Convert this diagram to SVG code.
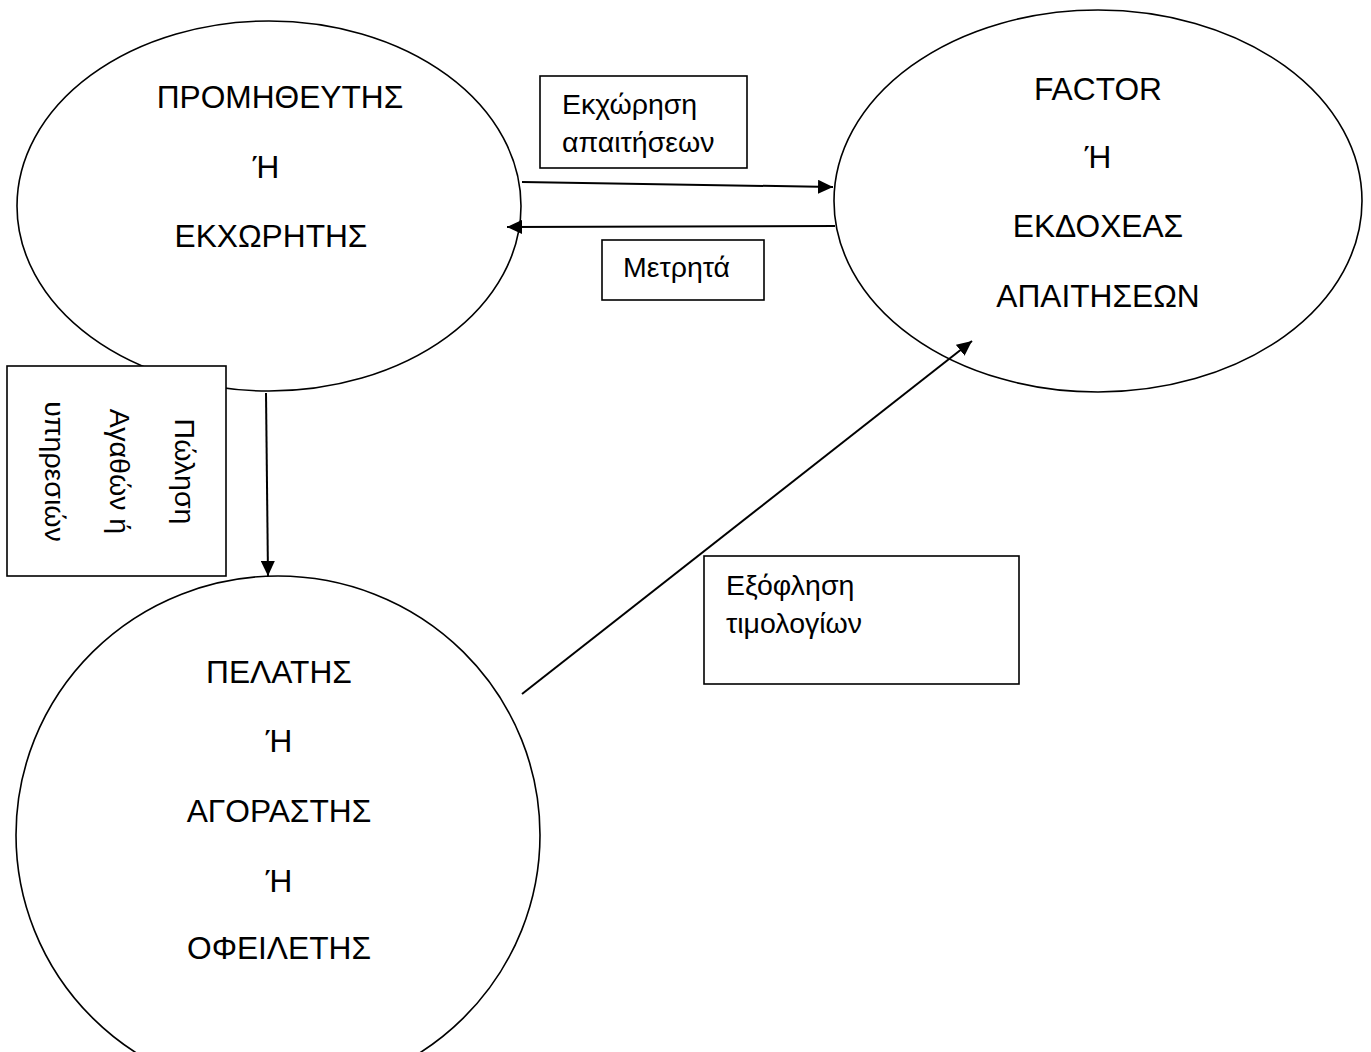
<svg xmlns="http://www.w3.org/2000/svg" width="1371" height="1052" viewBox="0 0 1371 1052">
<style>
.node{fill:#fff;stroke:#000;stroke-width:1.6}
.box{fill:#fff;stroke:#000;stroke-width:1.6}
.big{font-family:"Liberation Sans",Arial,sans-serif;font-size:31.7px;fill:#000;text-anchor:middle}
.lbl{font-family:"Liberation Sans",Arial,sans-serif;font-size:28.5px;fill:#000}
.rot{font-family:"Liberation Sans",Arial,sans-serif;font-size:28.5px;fill:#000;text-anchor:middle}
.edge{fill:none;stroke:#000;stroke-width:2;marker-end:url(#arr)}
</style>
<defs>
<marker id="arr" markerUnits="userSpaceOnUse" markerWidth="16" markerHeight="14" refX="15" refY="7" orient="auto">
<path d="M0,0 L15,7 L0,14 z" fill="#000"/>
</marker>
</defs>
<rect width="1371" height="1052" fill="#fff"/>
<g id="supplier">
<ellipse class="node" cx="269" cy="206" rx="252" ry="185"/>
<text class="big" x="280" y="108">ΠΡΟΜΗΘΕΥΤΗΣ</text>
<text class="big" x="266" y="178">Ή</text>
<text class="big" x="271" y="247">ΕΚΧΩΡΗΤΗΣ</text>
</g>
<g id="factor">
<ellipse class="node" cx="1098" cy="201" rx="264" ry="191"/>
<text class="big" x="1098" y="100">FACTOR</text>
<text class="big" x="1098" y="168">Ή</text>
<text class="big" x="1098" y="237">ΕΚΔΟΧΕΑΣ</text>
<text class="big" x="1098" y="307">ΑΠΑΙΤΗΣΕΩΝ</text>
</g>
<g id="customer">
<ellipse class="node" cx="278" cy="835" rx="262" ry="259"/>
<text class="big" x="279" y="683">ΠΕΛΑΤΗΣ</text>
<text class="big" x="279" y="752">Ή</text>
<text class="big" x="279" y="822">ΑΓΟΡΑΣΤΗΣ</text>
<text class="big" x="279" y="892">Ή</text>
<text class="big" x="279" y="959">ΟΦΕΙΛΕΤΗΣ</text>
</g>
<g id="label-assignment">
<rect class="box" x="540" y="76" width="207" height="92"/>
<text class="lbl" x="562" y="114">Εκχώρηση</text>
<text class="lbl" x="562" y="152">απαιτήσεων</text>
</g>
<g id="label-cash">
<rect class="box" x="602" y="240" width="162" height="60"/>
<text class="lbl" x="623" y="277">Μετρητά</text>
</g>
<g id="label-sale">
<rect class="box" x="7" y="366" width="219" height="210"/>
<text class="rot" transform="translate(175,471.5) rotate(90)">Πώληση</text>
<text class="rot" transform="translate(110,471.5) rotate(90)">Αγαθών ή</text>
<text class="rot" transform="translate(45,471.5) rotate(90)">υπηρεσιών</text>
</g>
<g id="label-payment">
<rect class="box" x="704" y="556" width="315" height="128"/>
<text class="lbl" x="726" y="595">Εξόφληση</text>
<text class="lbl" x="726" y="633">τιμολογίων</text>
</g>
<g id="connectors">
<line class="edge" x1="522" y1="182" x2="833" y2="187"/>
<line class="edge" x1="835" y1="226" x2="507" y2="227"/>
<line class="edge" x1="266" y1="393" x2="268" y2="576"/>
<line class="edge" x1="522" y1="694" x2="972" y2="341"/>
</g>
</svg>
